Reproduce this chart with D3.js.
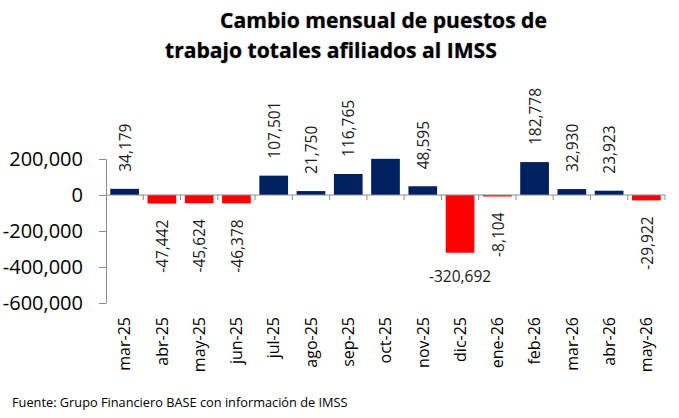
<!DOCTYPE html>
<html>
<head>
<meta charset="utf-8">
<script src="https://cdn.jsdelivr.net/npm/d3@7"></script>
<style>
  html, body { margin: 0; padding: 0; background: #fff; }
  svg { display: block; }
  text { font-family: "Open Sans", "DejaVu Sans", sans-serif; }
</style>
</head>
<body>
<script>
// ---- data ----
const categories = ["mar-25","abr-25","may-25","jun-25","jul-25","ago-25","sep-25","oct-25","nov-25","dic-25","ene-26","feb-26","mar-26","abr-26","may-26"];
const values = [34179, -47442, -45624, -46378, 107501, 21750, 116765, 201000, 48595, -320692, -8104, 182778, 32930, 23923, -29922];
const showLabel = [true, true, true, true, true, true, true, false, true, true, true, true, true, true, true];
const yTicks = [200000, 0, -200000, -400000, -600000];
const titleLines = ["Cambio mensual de puestos de", "trabajo totales afiliados al IMSS"];
const sourceText = "Fuente: Grupo Financiero BASE con información de IMSS";

const W = 679, H = 418;
const svg = d3.select("body").append("svg").attr("width", W).attr("height", H);

const x = d3.scaleBand().domain(categories).range([106, 665]).padding(0);
const y = d3.scaleLinear().domain([-600000, 200000]).range([303, 159]);
const locale = d3.formatLocale({decimal: ".", thousands: ",", grouping: [3], currency: ["$", ""], minus: "-"});
const fmt = locale.format(",");
const posColor = "#002060", negColor = "#FF0000";
const barFrac = 0.77;

function fitFont(sel, base, target) {
  sel.style("font-size", base + "px");
  const len = sel.node().getComputedTextLength();
  sel.style("font-size", (base * target / len) + "px");
  return base * target / len;
}

// Title
const t1 = svg.append("text").attr("x", 220).attr("y", 28).attr("font-weight", "bold").attr("fill", "#000").text(titleLines[0]);
const ts = fitFont(t1, 20, 327);
svg.append("text").attr("x", 165).attr("y", 58).attr("font-weight", "bold").attr("fill", "#000")
  .style("font-size", ts + "px").text(titleLines[1]);
svg.selectAll("text").style("text-shadow", "0 0 1.5px rgba(0,0,0,0.45)");

// Bars
const bw = x.bandwidth() * barFrac;
svg.append("g").selectAll("rect").data(values).join("rect")
  .attr("x", (d, i) => x(categories[i]) + (x.bandwidth() - bw) / 2)
  .attr("width", bw)
  .attr("y", d => y(Math.max(0, d)))
  .attr("height", d => Math.abs(y(d) - y(0)))
  .attr("fill", d => d >= 0 ? posColor : negColor);

// Y axis
const yAxis = d3.axisLeft(y).tickValues(yTicks).tickFormat(fmt).tickSize(7).tickSizeOuter(0).tickPadding(16);
const gy = svg.append("g").attr("transform", "translate(106,0)").call(yAxis);
gy.select(".domain").attr("stroke", "#8c8c8c");
gy.selectAll(".tick line").attr("stroke", "#8c8c8c");
gy.selectAll(".tick text").attr("fill", "#000").style("font-size", "20px")
  .style("font-family", "'Open Sans', sans-serif");

// X axis line at zero with boundary ticks
const gx = svg.append("g");
gx.append("line").attr("x1", 106).attr("x2", 665).attr("y1", y(0)).attr("y2", y(0)).attr("stroke", "#8c8c8c");
gx.selectAll("line.bt").data(categories.slice(1).concat(["__end"])).join("line").attr("class", "bt")
  .attr("x1", (d, i) => 106 + (i + 1) * x.step()).attr("x2", (d, i) => 106 + (i + 1) * x.step())
  .attr("y1", y(0)).attr("y2", y(0) + 5).attr("stroke", "#8c8c8c");

// Category labels (rotated)
svg.append("g").selectAll("text").data(categories).join("text")
  .attr("transform", d => `translate(${x(d) + x.bandwidth() / 2},317) rotate(-90)`)
  .attr("text-anchor", "end").attr("dy", "0.36em")
  .style("font-size", "16px").attr("fill", "#000").text(d => d);

// Data labels
const lab = svg.append("g");
values.forEach((v, i) => {
  if (!showLabel[i]) return;
  const cx = x(categories[i]) + x.bandwidth() / 2;
  if (categories[i] === "dic-25") {
    lab.append("text").attr("x", cx).attr("y", y(v) + 29).attr("text-anchor", "middle")
      .style("font-size", "15.5px").attr("fill", "#1a1a1a").text(fmt(v));
  } else if (v >= 0) {
    lab.append("text").attr("transform", `translate(${cx},${y(v) - 17}) rotate(-90)`)
      .attr("text-anchor", "start").attr("dy", "0.4em")
      .style("font-size", "15.5px").attr("fill", "#1a1a1a").text(fmt(v));
  } else {
    lab.append("text").attr("transform", `translate(${cx},${y(v) + 16}) rotate(-90)`)
      .attr("text-anchor", "end").attr("dy", "0.4em")
      .style("font-size", "15.5px").attr("fill", "#1a1a1a").text(fmt(v));
  }
});

// Source
const src = svg.append("text").attr("x", 12).attr("y", 407).attr("fill", "#000").text(sourceText);
fitFont(src, 14, 336);
</script>
</body>
</html>
